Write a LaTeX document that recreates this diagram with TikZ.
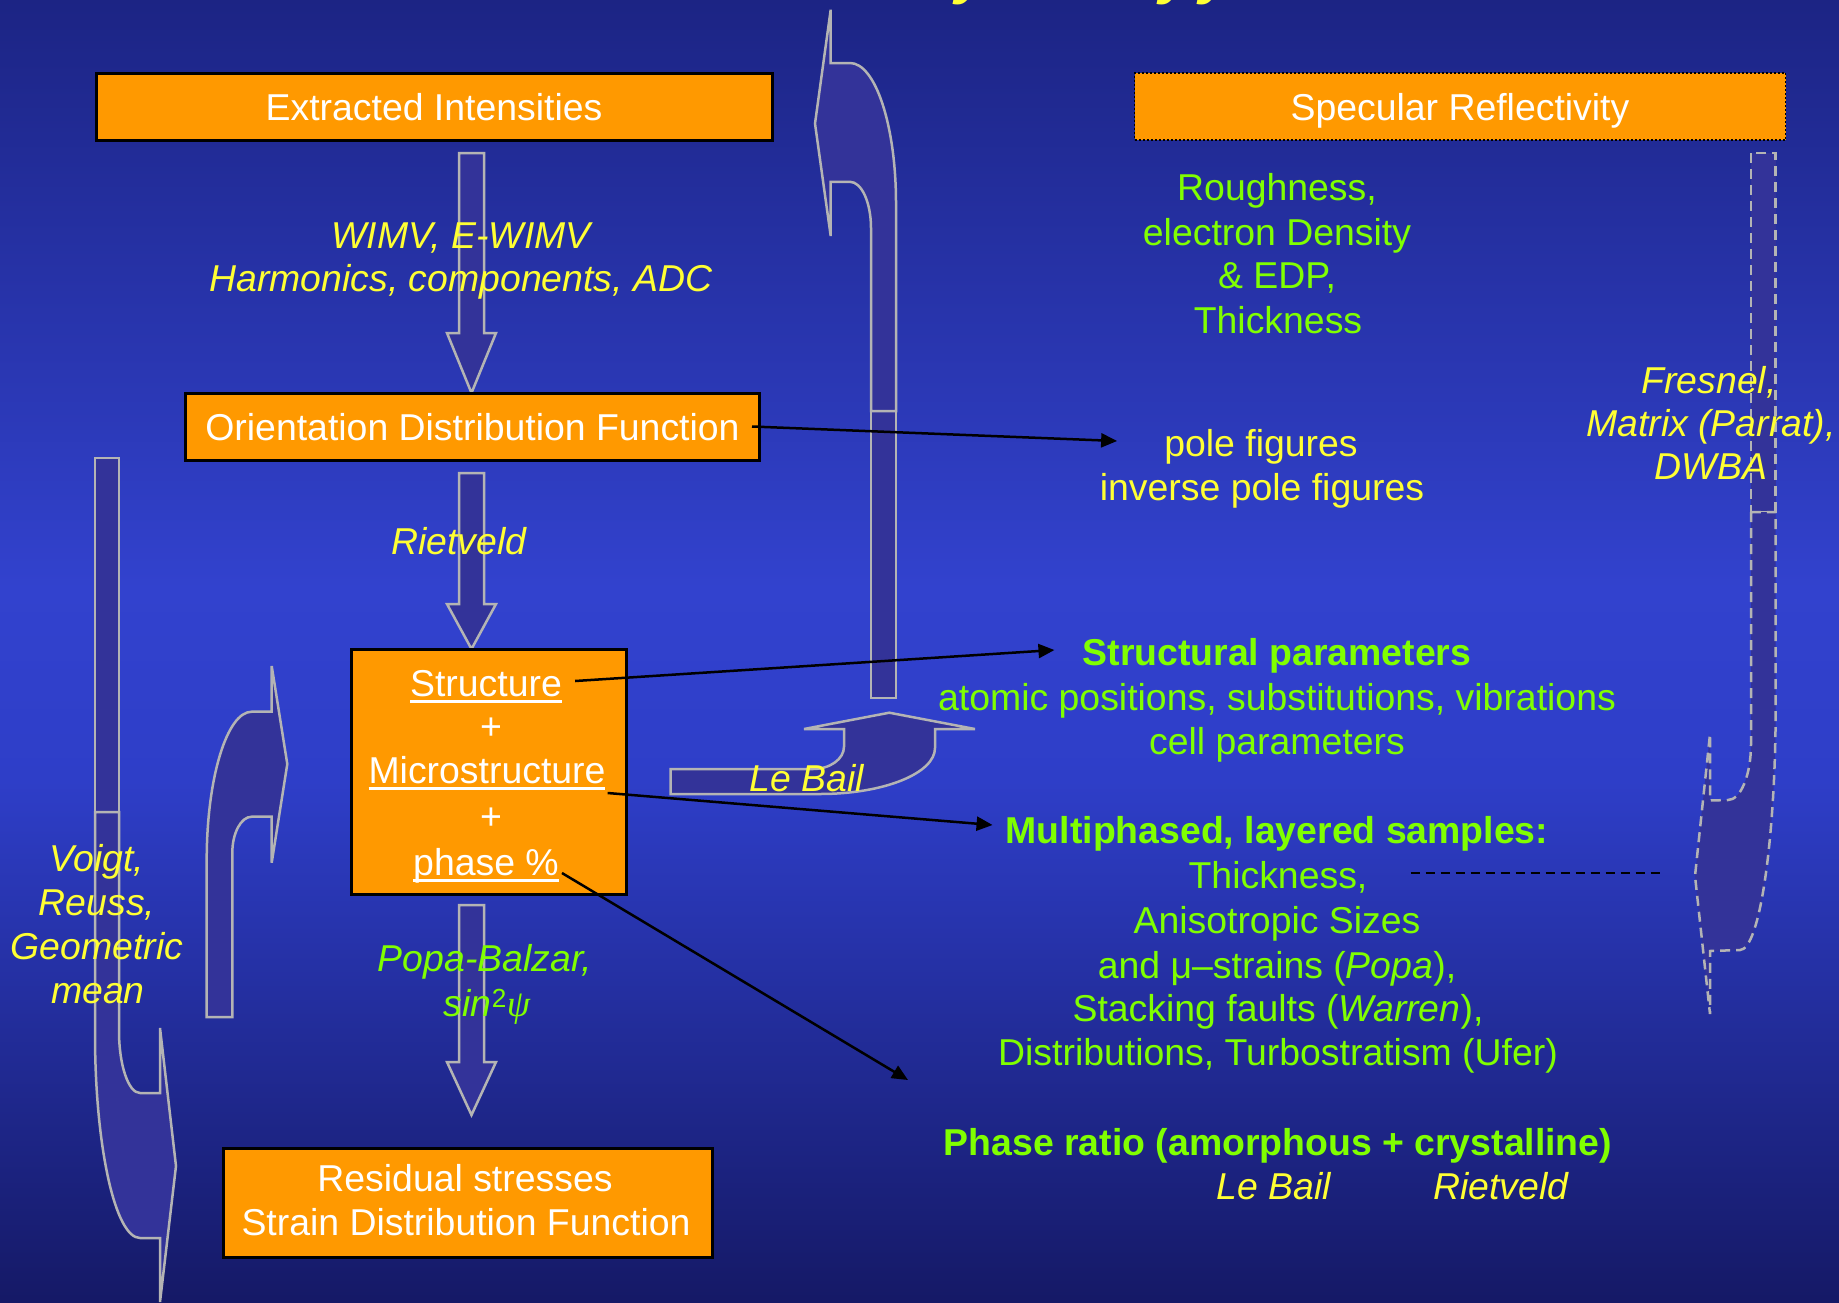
\documentclass[tikz,border=0pt]{standalone}
\usepackage{fontspec}
\setmainfont{Liberation Sans}
\newfontfamily\grkfont{Liberation Serif}
\usetikzlibrary{arrows.meta}
\definecolor{orng}{HTML}{FF9900}
\definecolor{arrfill}{HTML}{333399}
\definecolor{arrline}{HTML}{B4B4B4}
\definecolor{yel}{HTML}{FFFF33}
\definecolor{grn}{HTML}{80FF00}
\definecolor{bgtop}{HTML}{1C2484}
\definecolor{bgmid}{HTML}{3242CE}
\definecolor{bgmidb}{HTML}{2E3EC8}
\definecolor{bgbot}{HTML}{151966}
\newcommand\fsz{\fontsize{37.4pt}{44pt}\selectfont}
\newcommand\myul[1]{\setbox0=\hbox{#1}\rlap{\rule[-6pt]{\wd0}{2.5pt}}\box0}
\newcommand\downarr[3]{\draw[bigarrow] (459,#1) -- (484,#1) -- (484,#2) -- (496,#2) -- (471.5,#3) -- (447,#2) -- (459,#2) -- cycle;}
\begin{document}
\begin{tikzpicture}[x=1pt,y=-1pt,
  bigarrow/.style={fill=arrfill, draw=arrline, line width=2.5pt, line join=miter},
  dasharrow/.style={fill=arrfill, draw=arrline, line width=2.5pt, dash pattern=on 10pt off 6pt},
  ln/.style={inner sep=0pt, font=\fsz, text height=27pt, text depth=0pt},
  obox/.style={ln, draw=black, line width=3pt, fill=orng, text=white},
  wtxt/.style={ln, text=white},
  ytxt/.style={ln, text=yel, font=\fsz\itshape},
  yup/.style={ln, text=yel},
  gtxt/.style={ln, text=grn},
  gital/.style={ln, text=grn, font=\fsz\itshape},
  gbold/.style={ln, text=grn, font=\fsz\bfseries},
  conn/.style={draw=black, line width=2.5pt, -{Triangle[length=16pt,width=14pt]}},
]
\useasboundingbox (0,0) rectangle (1839,1302);
% background
\shade[top color=bgtop, bottom color=bgmid] (0,0) rectangle (1839,588);
\shade[top color=bgmid, bottom color=bgmidb] (0,587) rectangle (1839,782);
\shade[top color=bgmidb, bottom color=bgbot] (0,781) rectangle (1839,1302);

% clipped title fragments
\begin{scope}
\clip (0,0) rectangle (1839,1302);
\node[anchor=south, inner sep=0pt, text=yel, font=\fontsize{60pt}{60pt}\selectfont\bfseries\itshape] (tA) at (972,5) {y};
\node[anchor=south, inner sep=0pt, text=yel, font=\fontsize{60pt}{60pt}\selectfont\bfseries\itshape] (tB) at (1176,5) {y};
\node[anchor=south, inner sep=0pt, text=yel, font=\fontsize{60pt}{60pt}\selectfont\bfseries\itshape] (tC) at (1216,5) {y};
\end{scope}

% block arrows
\downarr{153}{333}{393}
\downarr{473}{604}{649}
\downarr{905}{1062}{1115}

\draw[bigarrow] (95,458) rectangle (119,812);
\draw[bigarrow] (95,812) -- (119,812) -- (119,1031) .. controls (119,1065) and (128.4,1093) .. (140,1093) -- (160,1093) -- (160,1028) -- (176,1166) -- (160,1302) -- (160,1238) -- (140,1238) .. controls (115.2,1238) and (95,1146.6) .. (95,1034) -- cycle;

\draw[bigarrow] (206.7,1017) -- (232.3,1017) -- (232.3,853) .. controls (232.3,833) and (241,816.7) .. (251.7,816.7) -- (271.7,816.7) -- (271.7,862.7) -- (287.3,764) -- (271.7,666) -- (271.7,711.7) -- (251.7,711.7) .. controls (226.9,711.7) and (206.7,778.3) .. (206.7,860) -- cycle;

\draw[bigarrow] (670.7,769) -- (813,769) .. controls (830,769) and (844,759) .. (844,746.7) -- (844,729) -- (804,729) -- (889.3,712.7) -- (975,729) -- (935,729) -- (935,748) .. controls (935,773.4) and (883.5,794) .. (820,794) -- (670.7,794) -- cycle;

\draw[bigarrow] (871,411) rectangle (896,698);
\draw[bigarrow] (871,411) -- (871,228) .. controls (871,202.6) and (861.6,181.8) .. (850,181.8) -- (830.7,181.8) -- (830.7,236) -- (815,123.6) -- (830.7,9.7) -- (830.7,63) -- (850,63) .. controls (875.4,63) and (896,125.7) .. (896,203) -- (896,411) -- cycle;

\draw[dasharrow] (1751,153) rectangle (1775.7,512);
\draw[dasharrow] (1751,512) -- (1751,744) .. controls (1751,775) and (1740.7,800) .. (1728,800) -- (1710,800.5) -- (1710,734) -- (1695,876) -- (1710,1014) -- (1710,951) -- (1740,950) .. controls (1759.7,950) and (1775.7,839.8) .. (1775.7,704) -- (1775.7,512) -- cycle;

% boxes
\node[obox, minimum width=676pt, minimum height=67pt] (ext) at (434,106.5) {Extracted Intensities};
\node[obox, line width=1.5pt, dash pattern=on 2pt off 2pt, minimum width=651pt, minimum height=67pt] (spec) at (1460,106.5) {Specular Reflectivity};
\node[obox, minimum width=574pt, minimum height=67pt] (odf) at (472.5,426.5) {Orientation Distribution Function};
\node[obox, minimum width=275pt, minimum height=245pt] (sbox) at (488.5,771.5) {};
\node[obox, minimum width=489pt, minimum height=109pt] (resid) at (467.5,1202.5) {};

% texts in boxes
\node[wtxt] (tStruct) at (486,683) {\myul{Structure}};
\node[wtxt] (plusA) at (491,726) {+};
\node[wtxt] (tMicro) at (487,770) {\myul{Microstructure}};
\node[wtxt] (plusB) at (491,816) {+};
\node[wtxt] (tPhase) at (486,862) {\myul{phase \%}};
\node[wtxt] (rA) at (465,1178) {Residual stresses};
\node[wtxt] (rB) at (466,1222) {Strain Distribution Function};

% labels
\node[ytxt] (wA) at (461,235) {WIMV, E-WIMV};
\node[ytxt] (wB) at (461,278) {Harmonics, components, ADC};
\node[ytxt] (riet) at (459,541) {Rietveld};
\node[gital] (popaA) at (485,958) {Popa-Balzar,};
\node[gital] (popaB) at (487,1003) {sin\textup{\textsuperscript{2}}{\grkfont\itshape ψ}};
\node[ytxt] (vA) at (97,858) {Voigt,};
\node[ytxt] (vB) at (97,902) {Reuss,};
\node[ytxt] (vC) at (97,946) {Geometric};
\node[ytxt] (vD) at (98,990) {mean};
\node[ytxt] (fA) at (1709,380) {Fresnel,};
\node[ytxt] (fB) at (1711,423) {Matrix (Parrat),};
\node[ytxt] (fC) at (1711,466) {DWBA};
\node[gtxt] (roA) at (1277,187) {Roughness,};
\node[gtxt] (roB) at (1277,231.5) {electron Density};
\node[gtxt] (roC) at (1277,275) {\& EDP,};
\node[gtxt] (roD) at (1278,320) {Thickness};
\node[yup] (pf1) at (1261,443) {pole figures};
\node[yup] (pf2) at (1262,486.5) {inverse pole figures};
\node[gbold] (sp1) at (1277,652) {Structural parameters};
\node[gtxt] (sp2) at (1277,696.5) {atomic positions, substitutions, vibrations};
\node[gtxt] (sp3) at (1277,741) {cell parameters};
\node[gbold] (mp1) at (1277,830) {Multiphased, layered samples:};
\node[gtxt] (mp2) at (1278,875) {Thickness,};
\node[gtxt] (mp3) at (1277,920) {Anisotropic Sizes};
\node[gtxt] (mp4) at (1277,964.6) {and μ–strains (\textit{Popa}),};
\node[gtxt] (mp5) at (1278,1007.5) {Stacking faults (\textit{Warren}),};
\node[gtxt] (mp6) at (1278,1052) {Distributions, Turbostratism (Ufer)};
\node[gbold] (pr) at (1278,1142) {Phase ratio (amorphous + crystalline)};
\node[ytxt] (lbB) at (1274,1186) {Le Bail};
\node[ytxt] (rvB) at (1501,1186) {Rietveld};
\node[ytxt] (lbA) at (807,778) {Le Bail};

% connectors
\coordinate (phTip) at (908,1080);
\coordinate (dEnd) at (1663,873);
\draw[conn] ([xshift=-9pt]odf.east) -- ([xshift=-47pt,yshift=2pt]pf1.west);
\draw[conn] ([xshift=13pt,yshift=2pt]tStruct.east) -- ([xshift=-28pt,yshift=2pt]sp1.west);
\draw[conn] ([xshift=2pt,yshift=-23pt]tMicro.east) -- ([xshift=-13pt,yshift=5pt]mp1.west);
\draw[conn] ([xshift=3pt,yshift=-11pt]tPhase.east) -- (phTip);
\draw[black, line width=2pt, dash pattern=on 9pt off 6pt] ([xshift=43pt,yshift=2pt]mp2.east) -- (dEnd);
\end{tikzpicture}
\end{document}
